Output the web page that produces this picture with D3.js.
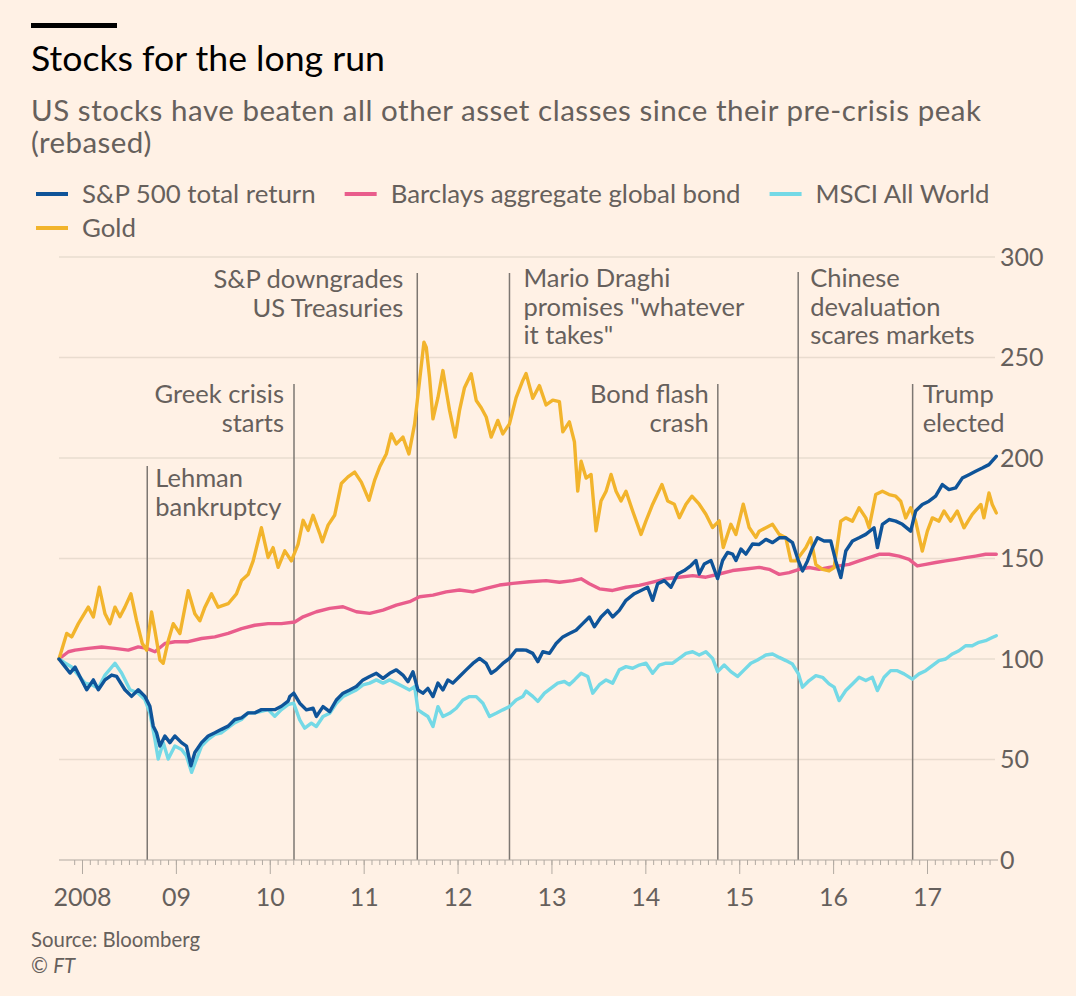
<!DOCTYPE html>
<html><head><meta charset="utf-8">
<script src="https://cdn.jsdelivr.net/npm/d3@7"></script>
<style>
html,body{margin:0;padding:0;background:#fff1e5;}
svg{display:block;font-family:Lato,"Open Sans",sans-serif;}
</style></head><body>
<svg id="chart" width="1076" height="996"></svg>
<script>
// ---------- DATA (decimal years, rebased index) ----------
const spT = [2007.755,2007.819,2007.872,2007.926,2007.996,2008.050,2008.121,2008.174,2008.245,2008.316,2008.369,2008.457,2008.528,2008.599,2008.670,2008.723,2008.759,2008.794,2008.830,2008.883,2008.936,2008.989,2009.060,2009.113,2009.160,2009.202,2009.273,2009.344,2009.415,2009.486,2009.557,2009.628,2009.699,2009.769,2009.840,2009.911,2009.982,2010.053,2010.124,2010.195,2010.213,2010.255,2010.319,2010.390,2010.461,2010.496,2010.567,2010.638,2010.709,2010.780,2010.851,2010.922,2010.993,2011.064,2011.135,2011.206,2011.277,2011.348,2011.418,2011.472,2011.525,2011.578,2011.631,2011.684,2011.738,2011.791,2011.844,2011.897,2011.950,2012.021,2012.092,2012.163,2012.234,2012.305,2012.358,2012.411,2012.482,2012.553,2012.624,2012.695,2012.730,2012.801,2012.855,2012.908,2012.979,2013.050,2013.121,2013.191,2013.262,2013.333,2013.404,2013.457,2013.528,2013.599,2013.652,2013.723,2013.794,2013.883,2013.954,2014.025,2014.078,2014.131,2014.202,2014.273,2014.344,2014.415,2014.486,2014.539,2014.574,2014.628,2014.699,2014.770,2014.823,2014.876,2014.929,2014.965,2015.018,2015.071,2015.142,2015.213,2015.284,2015.355,2015.426,2015.497,2015.567,2015.631,2015.674,2015.727,2015.780,2015.833,2015.904,2015.975,2016.028,2016.082,2016.135,2016.206,2016.277,2016.348,2016.436,2016.472,2016.525,2016.596,2016.667,2016.738,2016.826,2016.879,2016.950,2017.021,2017.092,2017.163,2017.234,2017.305,2017.376,2017.447,2017.518,2017.589,2017.660,2017.738];
const spV = [100,96.2,93,96,89.6,84.7,89.6,84.7,89.6,92,91.3,84.7,81.4,84.7,81.4,76.5,66.6,63.3,56.7,61.7,58.4,61.7,58.4,56.7,46.9,53.5,58.4,61.7,63.3,65,66.6,69.9,70.7,73.2,73.2,74.8,74.8,74.8,76.5,79,81.3,83,78,74.7,75.5,71.4,76.3,73.8,79.6,83,84.6,86.3,89.6,91.3,92.9,90.4,92.9,94.6,92,88.7,93.7,84.6,83,85.4,81.3,88,84.6,89.6,88,91.3,94.6,97.8,100.3,97.8,92.9,94.6,97.8,100.3,104.5,104.5,104.4,102.8,98.7,103.6,102.8,107.7,111,112.7,114.3,117.6,120.9,116,120.9,124.2,120.9,124.2,129.2,132.5,134.1,135.7,129.2,137.4,139,135.7,142.3,144,146.5,149,142.3,147.3,149,140,149,153,152.2,149,154.7,152.2,157.2,157,159.5,157.9,160.3,160.3,157.9,148.8,143.8,148.8,155.4,160.3,158.7,158.7,148.8,140.5,153.7,158.7,160.3,162,165.3,155.4,167,169.4,168.6,167,163.6,173.6,176.9,178.5,181,186.8,184.3,185.1,190,191.7,193.4,195,196.7,200.8];

const bondT = [2007.755,2007.855,2007.926,2008.067,2008.209,2008.351,2008.493,2008.599,2008.688,2008.777,2008.883,2008.989,2009.131,2009.273,2009.415,2009.557,2009.699,2009.840,2009.982,2010.124,2010.266,2010.355,2010.496,2010.638,2010.780,2010.922,2011.064,2011.206,2011.348,2011.489,2011.596,2011.738,2011.879,2012.021,2012.163,2012.305,2012.447,2012.589,2012.766,2012.943,2013.085,2013.227,2013.316,2013.404,2013.511,2013.652,2013.794,2013.936,2014.078,2014.220,2014.362,2014.504,2014.645,2014.787,2014.929,2015.071,2015.213,2015.319,2015.426,2015.532,2015.638,2015.745,2015.851,2015.957,2016.064,2016.170,2016.277,2016.383,2016.489,2016.596,2016.702,2016.809,2016.897,2016.986,2017.092,2017.199,2017.305,2017.411,2017.518,2017.624,2017.738];
const bondV = [100,103.6,104.4,105.3,106,105.3,104.4,106,105.3,103.6,107.7,108.6,108.6,110.2,111,112.7,115.1,116.8,117.6,117.6,118.4,121,123.5,125.2,126,123.5,122.7,124.3,126.8,128.5,131,131.8,133.4,134.3,133.4,135.1,136.8,137.6,138.4,139,138.2,139,139.9,137.4,134.9,134.1,135.7,136.6,138.2,139.9,140.7,141.5,140.7,142.3,144,144.8,145.6,144.6,142.1,143,144.6,145.5,144.6,145.5,146.3,147.1,148.8,150.4,152.1,152.1,151.2,149.6,146.3,147.1,148,148.8,149.6,150.4,151.2,152.1,152.1];

const msciT = [2007.755,2007.819,2007.890,2007.961,2008.032,2008.103,2008.174,2008.245,2008.351,2008.422,2008.511,2008.599,2008.670,2008.723,2008.777,2008.812,2008.865,2008.918,2008.989,2009.060,2009.113,2009.167,2009.220,2009.273,2009.344,2009.415,2009.486,2009.557,2009.628,2009.699,2009.769,2009.840,2009.911,2009.982,2010.053,2010.124,2010.195,2010.255,2010.319,2010.372,2010.443,2010.496,2010.567,2010.638,2010.709,2010.780,2010.851,2010.922,2010.993,2011.064,2011.135,2011.206,2011.277,2011.348,2011.418,2011.489,2011.543,2011.578,2011.631,2011.684,2011.738,2011.791,2011.844,2011.915,2011.986,2012.057,2012.128,2012.199,2012.270,2012.340,2012.411,2012.482,2012.553,2012.624,2012.695,2012.730,2012.801,2012.855,2012.926,2012.996,2013.067,2013.138,2013.191,2013.245,2013.316,2013.387,2013.440,2013.511,2013.582,2013.652,2013.723,2013.794,2013.865,2013.936,2014.007,2014.078,2014.149,2014.220,2014.291,2014.362,2014.433,2014.504,2014.574,2014.645,2014.716,2014.770,2014.840,2014.911,2014.982,2015.053,2015.124,2015.195,2015.284,2015.355,2015.426,2015.497,2015.567,2015.631,2015.674,2015.745,2015.816,2015.887,2015.957,2016.011,2016.064,2016.135,2016.206,2016.277,2016.348,2016.418,2016.472,2016.543,2016.613,2016.684,2016.755,2016.844,2016.915,2016.986,2017.057,2017.128,2017.199,2017.270,2017.340,2017.411,2017.482,2017.553,2017.624,2017.695,2017.738];
const msciV = [100,98,96,92,88,87.2,85.5,92,97.9,93,84.7,83,79.8,73.2,60,50.2,58.4,50.2,56.7,55,51.8,43.6,50.2,56.7,60,62.5,63.3,65.8,68.3,69.9,73.2,73.2,74,74.8,71.5,74.8,77.3,78,69.7,65.6,68.1,66.4,71.4,73,78,81.3,83,84.6,87.1,88,89.6,88,89.6,88,86.3,84.6,86.3,74.7,73,71.4,66.4,76.3,71.4,73,75.5,79.6,81.3,81.3,78,71.4,73,74.7,76.3,79.6,81.3,84,81.4,78.9,83,85.5,88,88.8,87.2,89.6,92.9,91.3,83,87.2,89.6,88,94.6,96.2,95.4,97,97.9,92.9,97,97.9,97.9,100.3,102.8,103.6,102,103.6,100.3,93.7,97,93.7,91.3,94.6,97.9,99.5,102,102.5,100.8,99.2,97.5,92.6,86,89.3,91.7,90.9,87.6,86,79.3,84.3,87.6,90.9,89.3,90.9,84.3,90.9,94.2,94.2,92.6,90,92.6,94.2,96.7,99.2,100,102.5,104.1,106.6,106.6,108.3,109.1,110.7,111.6];

const goldT = [2007.755,2007.837,2007.890,2007.961,2008.067,2008.121,2008.184,2008.245,2008.298,2008.351,2008.404,2008.457,2008.521,2008.582,2008.642,2008.688,2008.741,2008.777,2008.830,2008.865,2008.918,2008.972,2009.043,2009.131,2009.202,2009.255,2009.309,2009.379,2009.450,2009.557,2009.645,2009.699,2009.769,2009.823,2009.911,2009.982,2010.035,2010.089,2010.160,2010.230,2010.301,2010.355,2010.408,2010.461,2010.532,2010.560,2010.621,2010.691,2010.762,2010.833,2010.904,2010.975,2011.057,2011.117,2011.170,2011.241,2011.294,2011.348,2011.418,2011.482,2011.543,2011.596,2011.642,2011.667,2011.702,2011.738,2011.791,2011.844,2011.879,2011.915,2011.975,2012.021,2012.074,2012.145,2012.199,2012.252,2012.305,2012.358,2012.429,2012.482,2012.553,2012.624,2012.695,2012.730,2012.801,2012.872,2012.943,2013.014,2013.085,2013.121,2013.191,2013.245,2013.280,2013.316,2013.369,2013.422,2013.475,2013.528,2013.582,2013.635,2013.688,2013.741,2013.794,2013.865,2013.954,2014.007,2014.078,2014.177,2014.238,2014.309,2014.362,2014.433,2014.496,2014.574,2014.645,2014.716,2014.787,2014.830,2014.911,2014.965,2015.043,2015.106,2015.177,2015.213,2015.284,2015.355,2015.426,2015.497,2015.550,2015.603,2015.656,2015.709,2015.762,2015.816,2015.887,2015.957,2016.011,2016.082,2016.135,2016.206,2016.277,2016.348,2016.383,2016.454,2016.525,2016.596,2016.667,2016.720,2016.773,2016.826,2016.879,2016.950,2017.004,2017.057,2017.128,2017.181,2017.252,2017.323,2017.394,2017.482,2017.574,2017.606,2017.660,2017.695,2017.738];
const goldV = [100,112.7,111,117.6,125.8,120.9,135.7,122.5,117.6,125.8,121,125.8,132.4,119,107.7,104.4,123.4,114,99.5,97.9,109,117.6,112.7,134,122.5,119,125.8,132.4,125.8,127.5,132.4,139,142,148.8,165.3,150.5,155.4,145.6,153.8,148.8,157,169,164,171.5,162.4,158.3,166.6,171.5,187.3,190.6,193,188,179,189,195.5,202,212,207,210.4,202,217,238.6,257.6,255,240,219.5,230,243.5,233.6,223.7,210.4,223.7,235,241.9,228.6,225,220.4,210.4,218.7,212,217,230,238.6,242,229.7,236,226.4,228.8,228,213,218,208,183.5,198.4,190,191.8,163.8,178.6,183.5,191.8,183.5,178.6,183.5,173.6,162,168.7,177,186.8,178.6,177,170.3,177,181,177,172,165.4,168.7,155.5,167,162,177,165.4,160.5,163.6,165.3,167,162,160.3,148.8,148.8,152,155.4,160.3,147,144.6,143.8,145.5,168.6,170.2,168.6,175.2,170.2,165.3,181.8,183.5,181.8,181,178.5,170.2,175.2,168.6,153.7,163.6,170.2,168.6,173.6,168.6,173.6,165.3,172,176.9,170.2,182.6,176.9,172.7];

const seriesNames = ["S&P 500 total return","Barclays aggregate global bond","MSCI All World","Gold"];
const yTicks = [0,50,100,150,200,250,300];
const xTickYears = [2008,2009,2010,2011,2012,2013,2014,2015,2016,2017];
const xTickLabels = ["2008","09","10","11","12","13","14","15","16","17"];
const eventDates = [2008.695,2010.258,2011.571,2012.553,2014.772,2015.628,2016.847];
const eventLabels = [["Lehman","bankruptcy"],["Greek crisis","starts"],["S&P downgrades","US Treasuries"],["Mario Draghi","promises \"whatever","it takes\""],["Bond flash","crash"],["Chinese","devaluation","scares markets"],["Trump","elected"]];

// ---------- LAYOUT ----------
const W = 1076, H = 996;
const colors = {sp:"#0f5499", bond:"#e95d8c", msci:"#74d9e6", gold:"#f2b42c"};
const textGrey = "#66605c";
const svg = d3.select("#chart");
svg.append("rect").attr("width",W).attr("height",H).attr("fill","#fff1e5");

function fitSize(txt, target){
  const t = svg.append("text").attr("font-size",100).text(txt);
  const w = t.node().getComputedTextLength();
  t.remove();
  return 100*target/w;
}

const x = d3.scaleLinear().domain([2008,2017]).range([82,927]);
const y = d3.scaleLinear().domain([0,300]).range([860,257]);
const xStart = x(spT[0]);

// header
svg.append("rect").attr("x",31).attr("y",23).attr("width",86).attr("height",5).attr("fill","#000");
const titleText = "Stocks for the long run";
svg.append("text").attr("x",31).attr("y",71).attr("fill","#000")
  .attr("font-size",fitSize(titleText,354)).text(titleText);
const sub1 = "US stocks have beaten all other asset classes since their pre-crisis peak";
const subSize = fitSize(sub1,950)*0.96;
svg.append("text").attr("x",31).attr("y",121).attr("fill",textGrey).attr("font-size",subSize)
  .attr("textLength",950).attr("lengthAdjust","spacing").text(sub1);
svg.append("text").attr("x",31).attr("y",153).attr("fill",textGrey).attr("font-size",subSize)
  .attr("letter-spacing",0.4).text("(rebased)");

// legend
const legSize = fitSize("Barclays aggregate global bond",350);
const legColors = [colors.sp,colors.bond,colors.msci,colors.gold];
const legRows = [[0,1,2],[3]];
legRows.forEach((row,ri)=>{
  let cx = 36;
  const by = 203 + ri*34;
  row.forEach(i=>{
    svg.append("line").attr("x1",cx).attr("x2",cx+32).attr("y1",by-9).attr("y2",by-9)
      .attr("stroke",legColors[i]).attr("stroke-width",4);
    const t = svg.append("text").attr("x",cx+46).attr("y",by).attr("fill",textGrey)
      .attr("font-size",legSize).text(seriesNames[i]);
    cx = cx + 46 + t.node().getComputedTextLength() + 29;
  });
});

// gridlines
const grid = svg.append("g");
grid.selectAll("line").data(yTicks.filter(d=>d>0)).join("line")
  .attr("x1",xStart).attr("x2",995).attr("y1",d=>y(d)).attr("y2",d=>y(d))
  .attr("stroke","#e9dccf").attr("stroke-width",1.5);

// right axis labels
const tickSize = fitSize("2008",58);
svg.append("g").selectAll("text").data(yTicks).join("text")
  .attr("x",1000).attr("y",d=>y(d)).attr("dy","0.35em")
  .attr("fill",textGrey).attr("font-size",tickSize).text(d=>d);

// event lines
const evTop = [466,384,273,273,384,272,384];
const evBase = [487,403,288,287,403,287,403];
const evSide = [1,-1,-1,1,-1,1,1];
const evGap = [8,10,14,14,9,12,10];
const annSize = fitSize("S&P downgrades",190);
const ev = svg.append("g");
eventDates.forEach((d,i)=>{
  ev.append("line").attr("x1",x(d)).attr("x2",x(d)).attr("y1",evTop[i]).attr("y2",y(0))
    .attr("stroke","#7d7772").attr("stroke-width",1.5);
  const t = ev.append("text").attr("fill",textGrey).attr("font-size",annSize)
    .attr("text-anchor",evSide[i]>0?"start":"end");
  eventLabels[i].forEach((l,j)=>{
    t.append("tspan").attr("x",x(d)+evSide[i]*evGap[i]).attr("y",evBase[i]+j*28.7).text(l);
  });
});

// x axis
const axisG = svg.append("g");
axisG.append("line").attr("x1",xStart).attr("x2",998).attr("y1",y(0)).attr("y2",y(0))
  .attr("stroke","#b2aaa2").attr("stroke-width",1.2);
const minor = d3.range(2007+11/12, 2017.7, 1/12);
axisG.append("g").attr("transform",`translate(0,${y(0)})`)
  .call(d3.axisBottom(x).tickValues(minor).tickSize(5).tickFormat(""))
  .call(g=>g.select(".domain").remove())
  .call(g=>g.selectAll("line").attr("stroke","#b2aaa2"));
axisG.append("g").attr("transform",`translate(0,${y(0)})`)
  .call(d3.axisBottom(x).tickValues(xTickYears).tickSize(14).tickFormat((d,i)=>xTickLabels[i]))
  .call(g=>g.select(".domain").remove())
  .call(g=>g.selectAll("line").attr("stroke","#b2aaa2"))
  .call(g=>g.selectAll("text").attr("y",46).attr("dy",0).attr("fill",textGrey)
      .attr("font-size",tickSize).attr("font-family","Lato,'Open Sans',sans-serif"));

// series lines
const line = d3.line().x(d=>x(d[0])).y(d=>y(d[1]));
const series = [
  {T:bondT,V:bondV,c:colors.bond},
  {T:msciT,V:msciV,c:colors.msci},
  {T:goldT,V:goldV,c:colors.gold},
  {T:spT,V:spV,c:colors.sp}
];
series.forEach(s=>{
  svg.append("path").datum(d3.zip(s.T,s.V)).attr("d",line)
    .attr("fill","none").attr("stroke",s.c).attr("stroke-width",3.4)
    .attr("stroke-linejoin","round").attr("stroke-linecap","round");
});

// footer
const srcSize = fitSize("Source: Bloomberg",169);
svg.append("text").attr("x",31).attr("y",947).attr("fill",textGrey).attr("font-size",srcSize).text("Source: Bloomberg");
const ft = svg.append("text").attr("x",31).attr("y",973).attr("fill",textGrey).attr("font-size",srcSize);
ft.append("tspan").text("© ");
ft.append("tspan").attr("font-style","italic").text("FT");
</script>
</body></html>
